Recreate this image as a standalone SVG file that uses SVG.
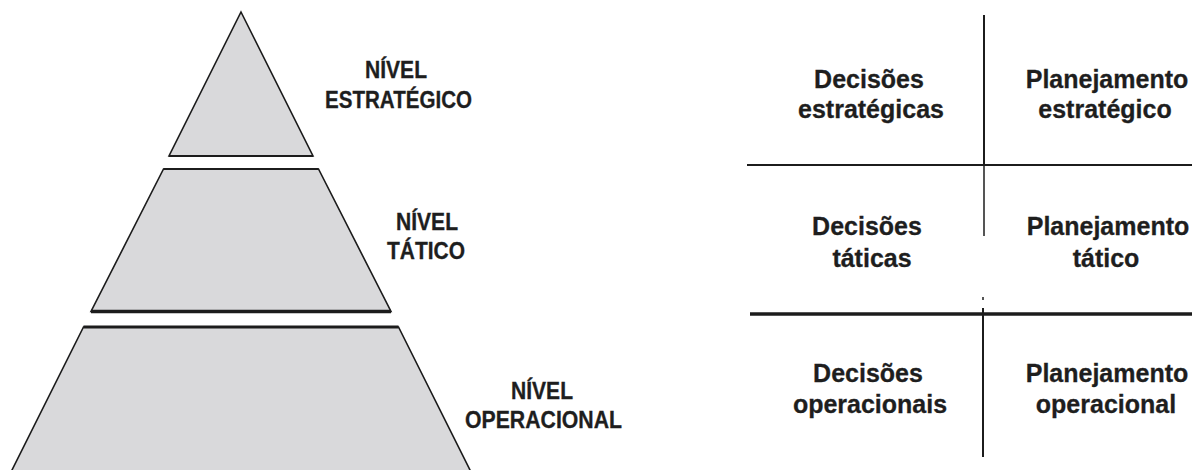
<svg xmlns="http://www.w3.org/2000/svg" width="1192" height="470" viewBox="0 0 1192 470">
  <style>
    .tier { fill: #d9d9db; stroke: #1c1c1c; stroke-width: 1.6; stroke-linejoin: miter; }
    .base { stroke: #1c1c1c; fill: none; }
    .lvl { font-family: "Liberation Sans", Arial, sans-serif; font-weight: bold; font-size: 23px; fill: #1e1e1e; stroke: #1e1e1e; stroke-width: 0.3; text-anchor: middle; }
    .cell { font-family: "Liberation Sans", Arial, sans-serif; font-weight: bold; font-size: 25px; fill: #1e1e1e; stroke: #1e1e1e; stroke-width: 0.3; text-anchor: middle; }
    .rule { stroke: #1c1c1c; fill: none; }
  </style>
  <rect width="1192" height="470" fill="#ffffff"/>

  <!-- Pyramid: three tiers on one cone, apex at (241,12) -->
  <g id="tier-strategic">
    <polygon class="tier" points="241,12 313,156 169,156"/>
    <line class="base" x1="169" y1="156" x2="313" y2="156" stroke-width="2.2"/>
    <text class="lvl" x="396" y="78" textLength="62" lengthAdjust="spacingAndGlyphs">NÍVEL</text>
    <text class="lvl" x="398.5" y="108" textLength="147" lengthAdjust="spacingAndGlyphs">ESTRATÉGICO</text>
  </g>

  <g id="tier-tactical">
    <polygon class="tier" points="163.5,169 318.5,169 391,311.5 91,311.5"/>
    <line class="base" x1="163.5" y1="169" x2="318.5" y2="169" stroke-width="2.2"/>
    <line class="base" x1="91" y1="311.5" x2="391" y2="311.5" stroke-width="3.4"/>
    <text class="lvl" x="427" y="230" textLength="62" lengthAdjust="spacingAndGlyphs">NÍVEL</text>
    <text class="lvl" x="426" y="259" textLength="78" lengthAdjust="spacingAndGlyphs">TÁTICO</text>
  </g>

  <g id="tier-operational">
    <polygon class="tier" points="83.5,327 398.5,327 472,474 10,474"/>
    <line class="base" x1="83.5" y1="327" x2="398.5" y2="327" stroke-width="2.8"/>
    <text class="lvl" x="542" y="399" textLength="62" lengthAdjust="spacingAndGlyphs">NÍVEL</text>
    <text class="lvl" x="543.5" y="428" textLength="157" lengthAdjust="spacingAndGlyphs">OPERACIONAL</text>
  </g>

  <!-- Table rules separating decisions from planning -->
  <g id="grid-lines">
    <line class="rule" x1="984" y1="15" x2="984" y2="165" stroke-width="2"/>
    <line class="rule" x1="984" y1="165" x2="984" y2="236" stroke="#555" stroke-width="1.5"/>
    <line class="rule" x1="983" y1="297" x2="983" y2="300" stroke="#777" stroke-width="1.5"/>
    <line class="rule" x1="983" y1="308" x2="983" y2="457" stroke-width="2"/>
    <line class="rule" x1="747" y1="165" x2="1192" y2="165" stroke-width="2.2"/>
    <line class="rule" x1="750" y1="314" x2="1192" y2="314" stroke-width="3.4"/>
  </g>

  <!-- Table cells -->
  <g id="cell-decisions-strategic">
    <text class="cell" x="869" y="88">Decisões</text>
    <text class="cell" x="871" y="118">estratégicas</text>
  </g>
  <g id="cell-planning-strategic">
    <text class="cell" x="1107" y="88">Planejamento</text>
    <text class="cell" x="1105" y="118">estratégico</text>
  </g>
  <g id="cell-decisions-tactical">
    <text class="cell" x="867" y="235">Decisões</text>
    <text class="cell" x="872" y="267">táticas</text>
  </g>
  <g id="cell-planning-tactical">
    <text class="cell" x="1108" y="235">Planejamento</text>
    <text class="cell" x="1106" y="267">tático</text>
  </g>
  <g id="cell-decisions-operational">
    <text class="cell" x="868" y="382">Decisões</text>
    <text class="cell" x="870" y="413">operacionais</text>
  </g>
  <g id="cell-planning-operational">
    <text class="cell" x="1107" y="382">Planejamento</text>
    <text class="cell" x="1106" y="413">operacional</text>
  </g>
</svg>
